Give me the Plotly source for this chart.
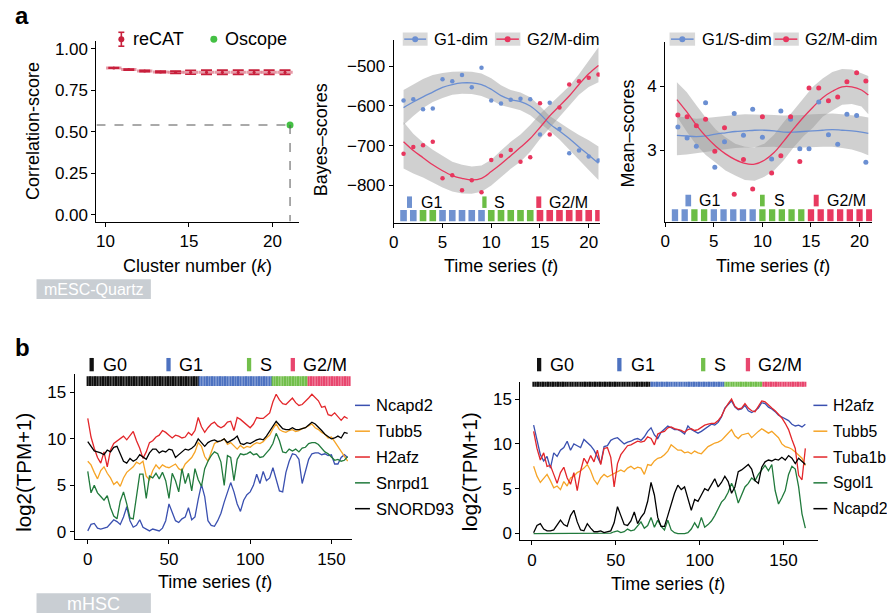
import plotly.graph_objects as go

W, H = 887, 616
FONT = "Liberation Sans, Arial, Helvetica, sans-serif"


def X(px):
    return px / W


def Y(py):
    return 1 - py / H


# ====================== DATA ======================
# ---- panel a (left): correlation score vs cluster number
recat_k = [10.5, 11.4, 12.35, 13.3, 14.2, 15.1, 16.05, 17.0, 17.95, 18.9, 19.8, 20.75]
recat_score = [0.884, 0.874, 0.866, 0.860, 0.858, 0.858, 0.858, 0.858, 0.858, 0.858, 0.858, 0.858]
recat_err = [0.002, 0.003, 0.004, 0.005, 0.007, 0.012, 0.013, 0.013, 0.013, 0.013, 0.013, 0.013]
oscope_k = 21.05
oscope_score = 0.54

# ---- panel a (middle): Bayes scores
t_a = list(range(1, 22))
phase_a = ["G1", "G1", "S", "S", "G1", "G1", "G1", "G1", "G1", "S", "S", "S", "S", "S",
           "G2/M", "G2/M", "G2/M", "G2/M", "G2/M", "G2/M", "G2/M"]
bayes_g1 = [-586, -583, -608, -606, -533, -538, -522, -553, -504, -586, -594, -584, -582, -583,
            -672, -592, -658, -719, -712, -727, -737]
bayes_g2m = [-720, -703, -699, -690, -782, -774, -812, -787, -817, -736, -725, -711, -740, -729,
             -593, -672, -604, -546, -538, -529, -521]
bayes_g1_fit = [-604, -590, -577, -565, -553, -546, -542, -542, -546, -558, -574, -584, -589, -600,
                -620, -645, -663, -682, -703, -723, -744]
bayes_g1_hi = [-560, -546, -532, -522, -517, -514, -513, -514, -518, -530, -548, -560, -566, -578,
               -600, -625, -642, -658, -673, -686, -702]
bayes_g1_lo = [-648, -625, -605, -590, -580, -572, -569, -570, -575, -585, -598, -605, -611, -623,
               -643, -663, -684, -708, -735, -761, -786]
bayes_g2m_fit = [-690, -712, -730, -748, -763, -775, -782, -786, -782, -765, -746, -725, -704, -682,
                 -654, -625, -600, -575, -546, -519, -498]
bayes_g2m_hi = [-640, -670, -692, -710, -725, -740, -748, -752, -750, -735, -712, -690, -672, -648,
                -620, -597, -575, -550, -520, -486, -452]
bayes_g2m_lo = [-757, -770, -780, -792, -805, -815, -820, -821, -816, -800, -778, -758, -740, -715,
                -683, -655, -628, -600, -572, -552, -540]

# ---- panel a (right): mean scores
t_pts_r = [1.3, 2.25, 3.2, 4.15, 5.1, 6.1, 7.1, 8.05, 9.0, 10.0, 10.95, 11.9, 12.9, 13.85, 14.8,
           15.8, 16.8, 17.75, 18.7, 19.7, 20.65]
mean_g1s = [3.36, 3.19, 3.06, 3.74, 2.73, 3.13, 3.57, 3.23, 3.64, 3.20, 2.86, 3.61, 3.48, 3.02, 3.02,
            3.75, 3.24, 3.09, 3.56, 3.54, 2.81]
mean_g2m = [3.55, 3.52, 3.38, 3.48, 2.98, 3.35, 2.31, 2.85, 2.39, 3.52, 2.64, 2.91, 3.52, 2.82, 3.97,
            3.97, 3.77, 3.83, 4.07, 4.21, 4.08]
t_fit_r = [1.2, 2.2, 3.2, 4.2, 5.2, 6.2, 7.2, 8.2, 9.2, 10.2, 11.2, 12.2, 13.2, 14.2, 15.2, 16.2,
           17.2, 18.2, 19.2, 20.2, 20.9]
mean_g2m_fit = [3.79, 3.60, 3.39, 3.21, 3.06, 2.94, 2.85, 2.79, 2.78, 2.84, 2.96, 3.14, 3.33, 3.51,
                3.67, 3.82, 3.92, 3.99, 3.99, 3.94, 3.86]
mean_g2m_hi = [4.06, 3.91, 3.70, 3.50, 3.32, 3.20, 3.10, 3.05, 3.04, 3.10, 3.24, 3.44, 3.62, 3.81,
               3.99, 4.12, 4.22, 4.27, 4.26, 4.20, 4.16]
mean_g2m_lo = [3.52, 3.29, 3.08, 2.92, 2.80, 2.68, 2.60, 2.53, 2.52, 2.58, 2.68, 2.84, 3.04, 3.21,
               3.35, 3.52, 3.62, 3.71, 3.72, 3.68, 3.56]
mean_g1s_fit = [3.23, 3.22, 3.21, 3.22, 3.25, 3.27, 3.29, 3.30, 3.31, 3.31, 3.30, 3.28, 3.28, 3.29,
                3.30, 3.31, 3.32, 3.31, 3.30, 3.28, 3.26]
mean_g1s_hi = [3.53, 3.51, 3.49, 3.50, 3.52, 3.54, 3.55, 3.56, 3.56, 3.56, 3.55, 3.54, 3.54, 3.55,
               3.56, 3.57, 3.57, 3.56, 3.55, 3.53, 3.51]
mean_g1s_lo = [2.92, 2.93, 2.94, 2.96, 2.99, 3.01, 3.03, 3.04, 3.05, 3.05, 3.05, 3.03, 3.03, 3.04,
               3.05, 3.05, 3.05, 3.03, 3.01, 2.96, 2.92]

# ---- panel b: phases per cell
phase_names_b = ["G0", "G1", "S", "G2/M"]
phase_counts_left = [69, 45, 22, 26]
phase_counts_right = [70, 44, 23, 26]

# ---- panel b (left): expression, t = 0, 2, ..., 160
t_left = list(range(0, 161, 2))
left_ncapd2 = [0.1, 0.8, 0.9, 0.4, 0.3, 0.4, 0.5, 0.9, 1.3, 1.1,
               0.8, 1.6, 2.7, 1.2, 0.5, 0.7, 1.3, 0.5, 0.3, 0.1,
               0.3, 0.2, 0.1, 0.4, 1.2, 3.0, 2.2, 1.2, 1.0, 1.4,
               1.6, 2.6, 1.3, 1.6, 3.5, 5.1, 3.8, 1.2, 0.7, 0.6,
               1.2, 2.0, 3.2, 4.2, 5.3, 4.3, 3.0, 2.2, 3.4, 4.0,
               4.3, 5.0, 6.2, 5.2, 6.5, 5.5, 5.8, 6.9, 5.6, 4.4,
               4.3, 6.4, 7.6, 8.4, 8.3, 7.8, 5.2, 6.4, 7.8, 8.4,
               8.5, 8.5, 8.3, 8.4, 8.2, 8.3, 7.3, 7.3, 8.0, 8.3,
               8.0]
left_tubb5 = [7.6, 7.2, 6.4, 5.7, 6.6, 7.0, 6.3, 5.8, 5.1, 5.4,
              4.9, 5.8, 6.4, 6.7, 7.0, 7.5, 7.3, 7.6, 6.0, 5.6,
              6.6, 7.2, 6.8, 7.2, 7.0, 6.9, 7.1, 7.3, 6.8, 6.6,
              7.3, 7.7, 8.0, 8.6, 9.6, 9.2, 8.1, 7.6, 8.6, 9.5,
              9.7, 9.8, 10.0, 9.4, 9.6, 9.3, 8.9, 9.3, 9.0, 9.2,
              9.1, 9.4, 9.6, 9.5, 9.7, 10.1, 10.4, 11.1, 11.6, 11.0,
              10.8, 10.7, 10.9, 11.0, 10.8, 10.9, 11.1, 11.2, 11.4, 11.6,
              11.2, 11.0, 10.7, 10.5, 10.1, 10.2, 9.7, 9.2, 8.7, 8.1,
              7.6]
left_h2afz = [12.2, 10.2, 9.0, 8.0, 7.4, 8.6, 7.0, 8.8, 9.5, 9.8,
              10.1, 10.3, 9.9, 10.3, 10.8, 9.8, 9.0, 7.9, 8.6, 9.6,
              9.8, 10.2, 10.4, 10.9, 10.7, 10.4, 10.1, 10.4, 10.3, 10.1,
              10.2, 10.7, 10.4, 10.9, 12.3, 11.3, 10.7, 11.2, 11.6, 11.8,
              11.4, 11.2, 11.4, 11.8, 11.9, 10.9, 12.3, 12.1, 11.8, 11.5,
              11.2, 11.6, 12.3, 12.2, 12.2, 12.5, 12.8, 14.0, 14.8, 14.2,
              13.8, 13.7, 14.0, 14.4, 13.9, 13.6, 13.7, 14.0, 14.4, 14.8,
              14.5, 14.1, 13.4, 13.5, 12.6, 12.5, 12.8, 12.4, 12.0, 12.4,
              12.2]
left_snrpd1 = [6.5, 4.2, 5.0, 4.2, 3.8, 3.4, 3.9, 2.6, 1.7, 1.4,
               3.3, 4.3, 3.0, 1.5, 1.4, 4.0, 6.2, 6.2, 3.6, 6.0,
               5.8, 6.3, 5.7, 6.4, 5.5, 3.6, 6.3, 5.5, 4.3, 6.8,
               5.2, 6.3, 4.4, 6.8, 5.6, 4.9, 6.8, 7.6, 8.2, 8.6,
               8.4, 7.5, 5.0, 8.2, 8.0, 5.5, 7.8, 8.4, 8.3, 8.4,
               8.6, 8.3, 8.4, 8.0, 8.1, 8.5, 8.9, 9.5, 10.6, 9.8,
               8.6, 8.5, 8.9, 8.7, 8.9, 8.6, 9.0, 9.1, 9.5, 9.6,
               9.6, 9.4, 9.0, 8.6, 8.4, 8.1, 7.7, 7.8, 7.6, 7.7,
               8.1]
left_snord93 = [9.7, 9.2, 8.7, 8.6, 8.5, 8.3, 8.8, 8.6, 9.1, 9.2,
                8.4, 7.6, 7.4, 7.9, 7.6, 7.8, 8.3, 8.0, 7.8, 8.5,
                8.9, 8.9, 8.5, 8.7, 8.6, 8.9, 8.8, 8.0, 8.3, 8.7,
                8.9, 8.8, 9.0, 9.3, 10.0, 9.6, 9.2, 9.6, 9.8, 9.9,
                9.7, 9.8, 10.0, 9.6, 9.8, 10.0, 10.3, 9.5, 9.4, 9.6,
                9.5, 9.7, 9.9, 10.0, 9.9, 10.3, 10.8, 11.4, 11.9, 11.5,
                11.1, 11.0, 11.0, 11.2, 11.0, 11.0, 11.1, 11.2, 11.5, 11.8,
                11.6, 11.3, 10.9, 10.5, 10.2, 10.0, 10.1, 10.3, 10.1, 10.7,
                10.6]

# ---- panel b (right): expression, t = 1, 3, ..., 163
t_right = list(range(1, 164, 2))
right_h2afz = [12.1, 10.3, 8.8, 8.1, 8.6, 7.3, 9.0, 8.6, 9.3, 9.6,
               10.3, 9.3, 10.0, 9.8, 9.6, 10.5, 10.2, 9.8, 9.3, 8.6,
               7.8, 9.7, 9.8, 10.4, 10.6, 10.7, 10.4, 10.0, 10.2, 10.3,
               10.5, 10.6, 10.4, 10.8, 11.4, 11.8, 11.0, 10.6, 11.3, 11.7,
               12.0, 11.8, 11.6, 11.6, 11.4, 11.1, 12.0, 11.6, 11.4, 11.2,
               11.4, 11.7, 12.0, 12.2, 12.1, 12.4, 13.0, 14.0, 14.4, 14.8,
               14.1, 13.8, 13.9, 14.3, 13.7, 13.5, 13.7, 14.0, 14.6, 14.5,
               14.1, 13.9, 13.6, 13.2, 13.0, 12.8, 12.6, 12.2, 12.0, 12.1,
               11.9, 12.2]
right_tubb5 = [7.5, 6.4, 5.7, 6.1, 6.6, 5.9, 5.1, 5.3, 4.9, 5.8,
               5.3, 6.2, 6.4, 6.8, 7.0, 7.3, 7.7, 7.0, 6.0, 5.5,
               6.2, 6.6, 6.3, 6.5, 6.7, 6.9, 7.1, 6.9, 7.3, 7.5,
               7.2, 7.4, 7.3, 6.6, 7.7, 7.6, 8.1, 8.4, 8.5, 8.8,
               9.2, 9.9, 9.6, 9.3, 9.3, 9.0, 9.1, 8.9, 9.2, 9.0,
               8.9, 9.3, 9.7, 9.9, 10.1, 10.2, 10.4, 10.8, 11.2, 11.6,
               10.9, 10.6, 11.0, 11.1, 11.2, 10.7, 11.1, 11.4, 11.7, 11.4,
               11.2, 11.4, 11.1, 10.7, 10.0, 9.7, 9.6, 9.4, 9.1, 8.8,
               8.4, 7.6]
right_tuba1b = [11.4, 9.5, 8.2, 9.0, 7.5, 7.6, 6.6, 5.6, 6.8, 7.4,
                6.2, 5.5, 6.8, 4.8, 7.0, 8.4, 7.8, 8.7, 8.0, 9.3,
                7.7, 9.5, 9.6, 8.5, 5.2, 7.8, 8.8, 9.3, 9.8, 9.9,
                10.1, 10.3, 10.2, 10.3, 10.8, 10.6, 9.9, 11.1, 11.3, 11.4,
                11.8, 11.9, 11.7, 11.6, 11.5, 11.3, 11.6, 11.7, 11.5, 11.6,
                11.9, 12.1, 12.2, 12.3, 12.3, 12.6, 13.1, 13.9, 14.5, 15.0,
                14.2, 13.9, 14.0, 14.5, 14.0, 13.7, 13.6, 14.2, 14.8, 14.7,
                14.3, 14.0, 13.7, 13.3, 12.9, 12.3, 11.6, 10.5, 9.5, 6.5,
                6.0, 9.5]
right_sgol1 = [0.0, 0.0, 0.0, 0.0, 0.0, 0.0, 0.0, 0.0, 0.0, 0.0,
               0.0, 0.0, 0.0, 0.0, 0.0, 0.0, 0.0, 0.0, 0.0, 0.0,
               0.0, 0.0, 0.0, 0.05, 0.2, 0.3, 0.1, 0.2, 0.5, 0.3,
               0.4, 0.8, 1.3, 0.6, 0.9, 1.8, 0.7, 1.5, 0.8, 0.4,
               1.5, 0.4, 0.1, 0.0, 0.0, 0.0, 0.1, 0.5, 1.2, 0.6,
               1.8, 0.7, 1.0, 1.4, 2.0, 2.8, 3.5, 3.9, 4.6, 5.6,
               4.8, 3.4, 4.4, 5.2, 5.6, 6.2, 5.9, 6.6, 7.1, 7.6,
               7.0, 7.7, 4.8, 3.3, 4.0, 4.8, 6.6, 7.5, 7.2, 5.2,
               2.2, 0.6]
right_ncapd2 = [0.1, 0.9, 1.1, 0.5, 0.3, 0.3, 0.4, 1.0, 1.5, 1.0,
                0.8, 2.0, 2.6, 1.3, 0.4, 0.3, 1.1, 0.6, 0.2, 0.2,
                0.3, 0.1, 0.2, 0.3, 1.2, 3.0, 2.0, 1.0, 0.9, 1.4,
                2.4, 1.1, 1.8, 2.3, 3.6, 5.7, 4.3, 1.8, 0.8, 0.8,
                2.0, 3.3, 4.5, 5.4, 4.9, 5.2, 3.8, 2.6, 3.8, 3.6,
                4.3, 5.0, 4.8, 5.4, 6.1, 5.2, 5.7, 6.4, 5.8, 4.5,
                5.2, 6.9, 7.1, 7.4, 7.7, 7.2, 5.9, 5.6, 7.4, 8.0,
                8.2, 8.1, 8.3, 8.2, 8.5, 8.2, 8.7, 8.4, 7.8, 8.4,
                8.0, 7.7]

# ====================== STYLE ======================
BLUE = "#6b8fd2"
PINK = "#e8365e"
BAND = "rgba(150,150,150,0.45)"
PH_A = {"G1": "#7092d0", "S": "#6cbd45", "G2/M": "#e83a60"}
PH_B = {"G0": "#111111", "G1": "#4d72c0", "S": "#72bf4b", "G2/M": "#e8466e"}
C_B = {"blue": "#3a50b0", "orange": "#f6a426", "red": "#e3262a", "green": "#217a3c", "black": "#000000"}
RECAT = "#c8203c"
OSCOPE = "#44c044"

fig = go.Figure()


def sc(**kw):
    kw.setdefault("showlegend", False)
    kw.setdefault("hoverinfo", "skip")
    fig.add_trace(go.Scatter(**kw))


# ---------- panel a left ----------
sc(x=recat_k, y=recat_score, mode="markers",
   marker=dict(symbol="line-ew", size=11, color="rgba(200,32,60,0.5)",
               line=dict(width=3, color="rgba(200,32,60,0.45)")),
   error_y=dict(type="data", array=recat_err, visible=True, width=5.5, thickness=1.6, color=RECAT),
   xaxis="x", yaxis="y")
sc(x=recat_k, y=recat_score, mode="markers", marker=dict(size=3, color=RECAT), xaxis="x", yaxis="y")
sc(x=[oscope_k], y=[oscope_score], mode="markers", marker=dict(size=7, color=OSCOPE), xaxis="x", yaxis="y")

# ---------- panel a middle ----------
for hi, lo in [(bayes_g1_hi, bayes_g1_lo), (bayes_g2m_hi, bayes_g2m_lo)]:
    sc(x=t_a + t_a[::-1], y=hi + lo[::-1], fill="toself", fillcolor=BAND, line=dict(width=0),
       mode="lines", xaxis="x2", yaxis="y2")
sc(x=t_a, y=bayes_g1_fit, mode="lines", line=dict(color=BLUE, width=1.3, shape="spline"), xaxis="x2", yaxis="y2")
sc(x=t_a, y=bayes_g2m_fit, mode="lines", line=dict(color=PINK, width=1.3, shape="spline"), xaxis="x2", yaxis="y2")
sc(x=t_a, y=bayes_g1, mode="markers", marker=dict(size=4.5, color=BLUE), xaxis="x2", yaxis="y2")
sc(x=t_a, y=bayes_g2m, mode="markers", marker=dict(size=4.5, color=PINK), xaxis="x2", yaxis="y2")
fig.add_trace(go.Bar(x=t_a, y=[28] * len(t_a), base=-890, width=0.68,
                     marker=dict(color=[PH_A[p] for p in phase_a], line=dict(width=0)),
                     showlegend=False, hoverinfo="skip", xaxis="x2", yaxis="y2"))

# ---------- panel a right ----------
for hi, lo in [(mean_g1s_hi, mean_g1s_lo), (mean_g2m_hi, mean_g2m_lo)]:
    sc(x=t_fit_r + t_fit_r[::-1], y=hi + lo[::-1], fill="toself", fillcolor=BAND, line=dict(width=0),
       mode="lines", xaxis="x3", yaxis="y3")
sc(x=t_fit_r, y=mean_g1s_fit, mode="lines", line=dict(color=BLUE, width=1.3, shape="spline"), xaxis="x3", yaxis="y3")
sc(x=t_fit_r, y=mean_g2m_fit, mode="lines", line=dict(color=PINK, width=1.3, shape="spline"), xaxis="x3", yaxis="y3")
sc(x=t_pts_r, y=mean_g1s, mode="markers", marker=dict(size=5, color=BLUE), xaxis="x3", yaxis="y3")
sc(x=t_pts_r, y=mean_g2m, mode="markers", marker=dict(size=5, color=PINK), xaxis="x3", yaxis="y3")
fig.add_trace(go.Bar(x=t_a, y=[0.19] * len(t_a), base=1.885, width=0.65,
                     marker=dict(color=[PH_A[p] for p in phase_a], line=dict(width=0)),
                     showlegend=False, hoverinfo="skip", xaxis="x3", yaxis="y3"))


# ---------- panel b ----------
def phases_from_counts(counts):
    out = []
    for name, n in zip(phase_names_b, counts):
        out += [name] * n
    return out


ph_left = phases_from_counts(phase_counts_left)
cells_left = list(range(0, len(ph_left)))
ph_right = phases_from_counts(phase_counts_right)
cells_right = list(range(1, len(ph_right) + 1))

fig.add_trace(go.Bar(x=cells_left, y=[1.07] * len(cells_left), base=15.68, width=0.55, cliponaxis=False,
                     marker=dict(color=[PH_B[p] for p in ph_left], line=dict(width=0)),
                     showlegend=False, hoverinfo="skip", xaxis="x4", yaxis="y4"))
fig.add_trace(go.Bar(x=cells_right, y=[1.0] * len(cells_right), base=16.37, width=0.55, cliponaxis=False,
                     marker=dict(color=[PH_B[p] for p in ph_right], line=dict(width=0)),
                     showlegend=False, hoverinfo="skip", xaxis="x5", yaxis="y5"))

left_series = [("Ncapd2", left_ncapd2, "blue"), ("Tubb5", left_tubb5, "orange"),
               ("H2afz", left_h2afz, "red"), ("Snrpd1", left_snrpd1, "green"),
               ("SNORD93", left_snord93, "black")]
right_series = [("H2afz", right_h2afz, "blue"), ("Tubb5", right_tubb5, "orange"),
                ("Tuba1b", right_tuba1b, "red"), ("Sgol1", right_sgol1, "green"),
                ("Ncapd2", right_ncapd2, "black")]
for name, vals, col in left_series:
    sc(x=t_left, y=vals, mode="lines", line=dict(color=C_B[col], width=1.3), xaxis="x4", yaxis="y4")
for name, vals, col in right_series:
    sc(x=t_right, y=vals, mode="lines", line=dict(color=C_B[col], width=1.3), xaxis="x5", yaxis="y5")

# ====================== LAYOUT ======================
shapes = []
annots = []


def rect(x0, y0, x1, y1, color):
    shapes.append(dict(type="rect", xref="paper", yref="paper", x0=X(x0), x1=X(x1), y0=Y(y1), y1=Y(y0),
                       fillcolor=color, line=dict(width=0), layer="above"))


def seg(x0, y0, x1, y1, color, width=1.5):
    shapes.append(dict(type="line", xref="paper", yref="paper", x0=X(x0), x1=X(x1), y0=Y(y0), y1=Y(y1),
                       line=dict(color=color, width=width), layer="above"))


def dot(cx, cy, r, color):
    shapes.append(dict(type="circle", xref="paper", yref="paper", x0=X(cx - r), x1=X(cx + r),
                       y0=Y(cy + r), y1=Y(cy - r), fillcolor=color, line=dict(width=0), layer="above"))


def text(x, y, s, size, xanchor="left", color="black", angle=0, yanchor="middle"):
    annots.append(dict(xref="paper", yref="paper", x=X(x), y=Y(y), text=s, showarrow=False,
                       xanchor=xanchor, yanchor=yanchor, textangle=angle,
                       font=dict(family=FONT, size=size, color=color)))


# dashed guide lines for Oscope
XA_RANGE = [9.464, 21.607]
YA_RANGE = [-0.042, 1.048]
shapes.append(dict(type="line", xref="x", yref="y", x0=XA_RANGE[0], x1=oscope_k, y0=oscope_score, y1=oscope_score,
                   line=dict(color="#555555", width=1, dash="dash")))
shapes.append(dict(type="line", xref="x", yref="y", x0=oscope_k, x1=oscope_k, y0=oscope_score, y1=YA_RANGE[0],
                   line=dict(color="#555555", width=1, dash="dash")))

# panel letters
text(8, 15, "<b>a</b>", 24)
text(8, 349, "<b>b</b>", 24)

# legend a-left
seg(117, 31.5, 117, 45.5, RECAT, 1.6)
seg(114, 31.5, 120, 31.5, RECAT, 1.6)
seg(114, 45.5, 120, 45.5, RECAT, 1.6)
dot(117, 38.5, 3, RECAT)
text(127, 38.5, "reCAT", 18)
dot(210, 38.5, 3.5, OSCOPE)
text(219.5, 38.5, "Oscope", 18)

# legend a-middle and a-right
for (bx0, bx1, col, label) in [(400, 425, BLUE, "G1-dim"), (492.7, 518.3, PINK, "G2/M-dim"),
                               (668.3, 694, BLUE, "G1/S-dim"), (772.7, 798.3, PINK, "G2/M-dim")]:
    rect(bx0, 31.7, bx1, 45, "#d9d9d9")
    seg(bx0 + 1.5, 38.4, bx1 - 1.5, 38.4, col, 1.5)
    dot((bx0 + bx1) / 2, 38.4, 3, col)
    text(bx1 + 4.5, 38.6, label, 16.5)

# phase legends in a panels
for (mx0, mx1, tx, col, lab) in [(404.3, 409.3, 416.5, PH_A["G1"], "G1"), (480, 484.3, 489.5, PH_A["S"], "S"),
                                 (534.3, 539.3, 545.5, PH_A["G2/M"], "G2/M")]:
    rect(mx0, 196.7, mx1, 208.3, col)
    text(tx, 202.8, lab, 16)
for (mx0, mx1, tx, col, lab) in [(684.3, 690, 696, PH_A["G1"], "G1"), (759.3, 764, 771, PH_A["S"], "S"),
                                 (813.3, 818.3, 824.5, PH_A["G2/M"], "G2/M")]:
    rect(mx0, 195, mx1, 206.7, col)
    text(tx, 201.2, lab, 16)

# phase legends in b panels
for (mx0, tx, lab) in [(85, 96.5, "G0"), (162.3, 172.8, "G1"), (243.3, 254.5, "S"), (287.3, 297.8, "G2/M"),
                       (535, 546.2, "G0"), (615.7, 627.8, "G1"), (700, 711.2, "S"), (745, 755.5, "G2/M")]:
    rect(mx0, 359.3, mx0 + 4.3, 372.7, PH_B[lab])
    text(tx, 366.3, lab, 18)

# series legends in b panels
rows_y = [407, 433, 459, 485, 511]
for (name, vals, col), yy in zip(left_series, rows_y):
    seg(352, yy, 367, yy, C_B[col], 1.5)
    text(371.5, yy, name, 16.5)
for (name, vals, col), yy in zip(right_series, rows_y):
    seg(813, yy, 827, yy, C_B[col], 1.5)
    text(830.5, yy, name, 15.8)

# axis titles
text(28, 131, "Correlation-score", 18, xanchor="center", angle=-90)
text(194, 267, "Cluster number (<i>k</i>)", 18, xanchor="center")
text(318, 140, "Bayes\u2013scores", 18, xanchor="center", angle=-90)
text(499, 267, "Time series (<i>t</i>)", 18, xanchor="center")
text(627, 133, "Mean\u2013scores", 18, xanchor="center", angle=-90)
text(772, 267, "Time series (<i>t</i>)", 18, xanchor="center")
text(19, 474, "log2(TPM+1)", 20.5, xanchor="center", angle=-90)
text(211, 585, "Time series (<i>t</i>)", 18, xanchor="center")
text(468, 474, "log2(TPM+1)", 20.5, xanchor="center", angle=-90)
text(667, 587, "Time series (<i>t</i>)", 18, xanchor="center")

# grey dataset boxes
rect(31.7, 280, 146.7, 300, "#c9ced3")
text(89.2, 290.5, "mESC-Quartz", 16, xanchor="center", color="white")
rect(31.7, 596, 146.7, 616, "#c9ced3")
text(89.2, 607, "mHSC", 18, xanchor="center", color="white")


def axis(domain, rng, tickvals, anchor, size=17, **kw):
    d = dict(domain=domain, range=rng, tickvals=tickvals, anchor=anchor,
             showgrid=False, zeroline=False, showline=True, linecolor="black", linewidth=1.2,
             ticks="outside", ticklen=4, tickwidth=1.2, tickcolor="black",
             tickfont=dict(family=FONT, size=size, color="black"))
    d.update(kw)
    return d


fig.update_layout(
    width=W, height=H, margin=dict(l=0, r=0, t=0, b=0),
    paper_bgcolor="white", plot_bgcolor="rgba(0,0,0,0)",
    showlegend=False, barmode="overlay",
    font=dict(family=FONT, color="black"),
    xaxis=axis([X(92), X(296)], XA_RANGE, [10, 15, 20], "y"),
    yaxis=axis([Y(222), Y(40)], YA_RANGE, [0, 0.25, 0.5, 0.75, 1.0], "x", tickformat=".2f"),
    xaxis2=axis([X(391), X(598)], [0, 21.12], [0, 5, 10, 15, 20], "y2"),
    yaxis2=axis([Y(223), Y(39)], [-893.3, -433.3], [-800, -700, -600, -500], "x2"),
    xaxis3=axis([X(664), X(872)], [0, 21.29], [0, 5, 10, 15, 20], "y3"),
    yaxis3=axis([Y(222.3), Y(41.7)], [1.876, 4.684], [3, 4], "x3"),
    xaxis4=axis([X(70), X(349)], [-8.1, 162.7], [0, 50, 100, 150], "y4"),
    yaxis4=axis([Y(541.7), Y(375)], [-0.79, 17.03], [0, 5, 10, 15], "x4"),
    xaxis5=axis([X(518.3), X(817.7)], [-6.9, 170.6], [0, 50, 100, 150], "y5"),
    yaxis5=axis([Y(542.7), Y(383.3)], [-0.74, 16.93], [0, 5, 10, 15], "x5"),
    shapes=shapes, annotations=annots,
)

fig.write_html("out.html", config={"displayModeBar": False},
               post_script="document.body.style.margin='0px';document.body.style.overflow='hidden';")
